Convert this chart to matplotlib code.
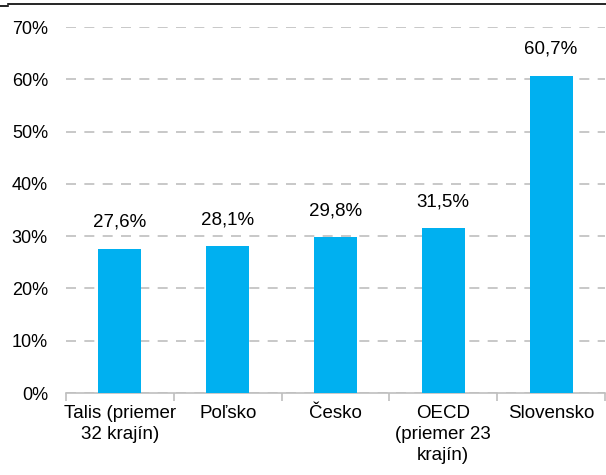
import matplotlib.pyplot as plt
from matplotlib.lines import Line2D

plt.rcParams['font.family'] = ['Liberation Sans', 'DejaVu Sans']

# Data
categories = ["Talis (priemer\n32 krajín)", "Poľsko", "Česko", "OECD\n(priemer 23\nkrajín)", "Slovensko"]
values = [27.6, 28.1, 29.8, 31.5, 60.7]
value_labels = ["27,6%", "28,1%", "29,8%", "31,5%", "60,7%"]
yticks = [0, 10, 20, 30, 40, 50, 60, 70]

fig = plt.figure(figsize=(6.06, 4.75), dpi=100)
ax = fig.add_axes([66/606, 1-393/475, 539/606, 366/475])

x = range(len(values))
ax.bar(x, values, width=0.4, color='#00B0F0', zorder=3)
for xi, v, lab in zip(x, values, value_labels):
    ax.text(xi, v + 3.4, lab, ha='center', va='bottom', fontsize=13.5)

ax.set_xlim(-0.5, len(values) - 0.5)
ax.set_ylim(0, 70)
ax.set_yticks(yticks)
ax.set_yticklabels([f"{t}%" for t in yticks], fontsize=13)
ax.yaxis.grid(True, color='#BFBFBF', linestyle=(0, (6, 5)), linewidth=1.2, zorder=0)
ax.tick_params(axis='y', length=0, pad=13)

ax.set_xticks(x)
ax.set_xticklabels(categories, fontsize=13.5, linespacing=1.3)
ax.set_xticks([i - 0.5 for i in range(len(values) + 1)], minor=True)
ax.tick_params(axis='x', which='major', length=0, pad=9)
ax.tick_params(axis='x', which='minor', length=6, color='#BFBFBF', width=1.2)

for s in ['top', 'right', 'left']:
    ax.spines[s].set_visible(False)
ax.spines['bottom'].set_color('#BFBFBF')
ax.spines['bottom'].set_linewidth(1.2)

# cut-off title border at the top
fig.add_artist(Line2D([8/606, 1], [1-4/475, 1-4/475], color='black', linewidth=1.2))
fig.add_artist(Line2D([0, 8/606], [1-6/475, 1-6/475], color='black', linewidth=1.2))

fig.savefig('out.png', dpi=100)
